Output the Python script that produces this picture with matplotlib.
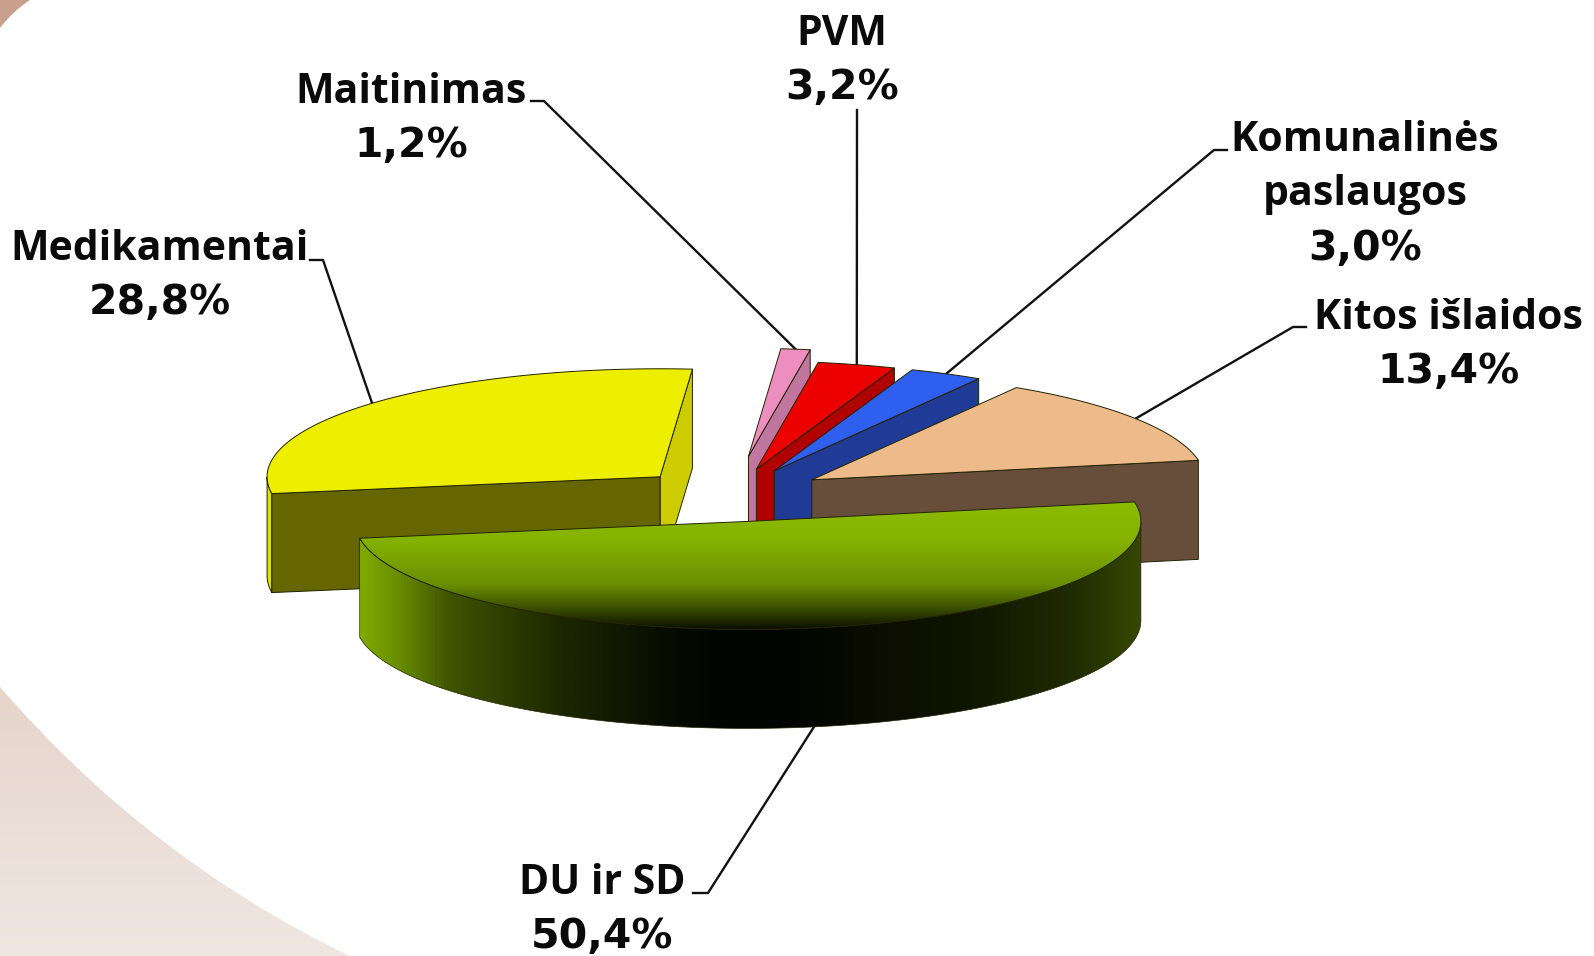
import numpy as np
import matplotlib
matplotlib.use("Agg")
import matplotlib.pyplot as plt
from matplotlib.colors import LinearSegmentedColormap
from matplotlib.patches import Polygon
from matplotlib.path import Path
from matplotlib.patches import PathPatch

labels = ["DU ir SD", "Medikamentai", "Maitinimas", "PVM", "Komunalinės\npaslaugos", "Kitos išlaidos"]
values = [50.4, 28.8, 1.2, 3.2, 3.0, 13.4]
value_text = ["50,4%", "28,8%", "1,2%", "3,2%", "3,0%", "13,4%"]
explode = [0.248, 0.248, 0.36, 0.248, 0.248, 0.248]

top_colors = ["#8DBB00", "#EEEE00", "#EC8FC0", "#EC0000", "#2E5FEE", "#EDBB8A"]
start_cut_colors = ["#354700", "#666600", "#C0769E", "#B00000", "#1F3B96", "#674E3B"]
end_cut_colors = ["#354700", "#CCCC00", "#C0769E", "#B00000", "#1F3B96", "#674E3B"]
wall_colors = ["#354700", "#E0E000", "#C0769E", "#B00000", "#1F3B96", "#674E3B"]

# label block centres and the elbow of each leader, in pixels
label_x = [602, 160, 411, 842, 1365, 1449]
label_y = [906, 272, 115, 57, 190, 341]
leader_start = [(693, 893), (310, 260), (531, 101), (857, 110), (1227, 150), (1306, 327)]
leader_elbow = [(708, 893), (323, 260), (544, 101), (857, 110), (1214, 150), (1293, 327)]

CX, CY = 731.5, 495
RX, RY = 393, 108
DEPTH = 99
START_ANGLE = 10.4
LINE_H = 54.5

fig = plt.figure(figsize=(15.94, 9.56), dpi=100)
ax = fig.add_axes([0, 0, 1, 1])


def gradient(cmap, extent, clip, horizontal=False):
    g = np.linspace(0, 1, 256)
    g = g.reshape(1, -1) if horizontal else g.reshape(-1, 1)
    im = ax.imshow(g, cmap=cmap, extent=extent, aspect="auto", zorder=clip.get_zorder(),
                   interpolation="bilinear", vmin=0, vmax=1)
    im.set_clip_path(clip)


# page decoration in the corners
corner = PathPatch(Path([(0, 687), (150, 860), (350, 956), (0, 956), (0, 687)],
                        [Path.MOVETO, Path.CURVE3, Path.CURVE3, Path.LINETO, Path.CLOSEPOLY]),
                   fc="none", ec="none", zorder=0.5)
ax.add_patch(corner)
gradient(LinearSegmentedColormap.from_list("bg", ["#E5D5CB", "#F0E7E2"]), (0, 350, 956, 687), corner)
corner2 = PathPatch(Path([(0, 28), (13, 11), (30, 0), (0, 0), (0, 28)],
                         [Path.MOVETO, Path.CURVE3, Path.CURVE3, Path.LINETO, Path.CLOSEPOLY]),
                    fc="#C8A08C", ec="none", zorder=0.5)
ax.add_patch(corner2)

top_cmap = LinearSegmentedColormap.from_list(
    "top", [(0, "#8DBB00"), (0.3, "#86B300"), (0.65, "#6A8F00"), (0.82, "#3F5500"),
            (0.95, "#1A2400"), (1, "#0A0E00")])
wall_cmap = LinearSegmentedColormap.from_list(
    "wall", [(0, "#7EA800"), (0.043, "#6C9000"), (0.11, "#3F5500"), (0.244, "#1E2A00"),
             (0.378, "#0A0E00"), (0.445, "#010600"), (0.552, "#010400"), (0.646, "#0A0C00"),
             (0.78, "#101500"), (0.913, "#1F2B00"), (1, "#354700")])

# slice angles run clockwise from START_ANGLE
spans = np.array(values) / sum(values) * 360
t_start = START_ANGLE - np.concatenate([[0], np.cumsum(spans)[:-1]])
t_end = t_start - spans
t_mid = (t_start + t_end) / 2

apex_x = CX + np.array(explode) * RX * np.cos(np.radians(t_mid))
apex_y = CY - np.array(explode) * RY * np.sin(np.radians(t_mid))


def rim(i, t):
    t = np.radians(t)
    return apex_x[i] + RX * np.cos(t), apex_y[i] - RY * np.sin(t)


EDGE = dict(ec="#222200", lw=0.7, joinstyle="round")
order = np.argsort(apex_y)
for rank, i in enumerate(order):
    z = 2 + rank
    ts = np.linspace(t_start[i], t_end[i], 200)
    xs, ys = rim(i, ts)

    # outer wall, only the part below the horizon
    low = np.sin(np.radians(ts)) < 0
    if low.any():
        wx, wy = xs[low], ys[low]
        wall = np.column_stack([np.r_[wx, wx[::-1]], np.r_[wy, wy[::-1] + DEPTH]])
        if i == 0:
            p = Polygon(wall, fc="none", ec="none", zorder=z)
            ax.add_patch(p)
            gradient(wall_cmap, (wx.min(), wx.max(), 800, 400), p, horizontal=True)
            ax.add_patch(Polygon(wall, fc="none", ec="#222200", lw=0.5, zorder=z + 0.2))
        else:
            ax.add_patch(Polygon(wall, fc=wall_colors[i], zorder=z, **EDGE))

    # cut faces that look toward the viewer
    if np.cos(np.radians(t_start[i])) < 0:
        ex, ey = rim(i, t_start[i])
        ax.add_patch(Polygon([(apex_x[i], apex_y[i]), (ex, ey), (ex, ey + DEPTH),
                              (apex_x[i], apex_y[i] + DEPTH)],
                             fc=start_cut_colors[i], zorder=z + 0.1, **EDGE))
    if np.sin(np.radians(t_end[i] - 90)) < 0:
        ex, ey = rim(i, t_end[i])
        ax.add_patch(Polygon([(apex_x[i], apex_y[i]), (ex, ey), (ex, ey + DEPTH),
                              (apex_x[i], apex_y[i] + DEPTH)],
                             fc=end_cut_colors[i], zorder=z, **EDGE))

    # top face
    face = np.column_stack([np.r_[apex_x[i], xs], np.r_[apex_y[i], ys]])
    if i == 0:
        p = Polygon(face, fc="none", ec="none", zorder=z + 0.3)
        ax.add_patch(p)
        gradient(top_cmap, (300, 1200, ys.max(), ys.min()), p)
        ax.add_patch(Polygon(face, fc="none", zorder=z + 0.4, **EDGE))
    else:
        ax.add_patch(Polygon(face, fc=top_colors[i], zorder=z + 0.3, **EDGE))

# labels and leaders, digits in the wider font like the original
for i in range(len(labels)):
    lines = labels[i].split("\n")
    first = label_y[i] - len(lines) * LINE_H / 2 + 15
    for k, line in enumerate(lines):
        ax.text(label_x[i], first + k * LINE_H, line, ha="center", va="baseline",
                family="Open Sans", fontweight="bold", fontsize=29.5, color="#0A0A0A", zorder=20)
    ax.text(label_x[i], first + len(lines) * LINE_H, value_text[i], ha="center", va="baseline",
            family="DejaVu Sans", fontweight="bold", fontsize=29.5, color="#0A0A0A", zorder=20)
    rx, ry = rim(i, t_mid[i])
    if i == 0:
        ry = ry + DEPTH
    ax.plot([leader_start[i][0], leader_elbow[i][0], rx], [leader_start[i][1], leader_elbow[i][1], ry],
            color="#111111", lw=1.7, zorder=1)

ax.set_xlim(0, 1594)
ax.set_ylim(956, 0)
ax.axis("off")
fig.savefig("out.png", dpi=100, facecolor="white")
